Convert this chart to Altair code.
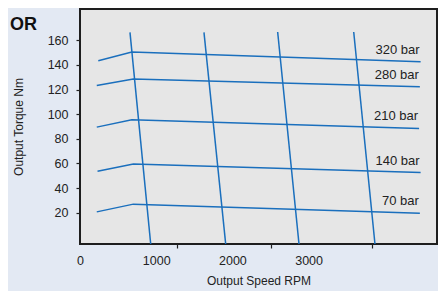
import altair as alt
import pandas as pd

# ---------------- data ----------------
pressure_labels = ["320 bar", "280 bar", "210 bar", "140 bar", "70 bar"]
start_rpm = [240, 220, 220, 230, 220]
start_torque = [143.4, 123.4, 89.5, 53.7, 20.6]
knee_rpm = [680, 700, 680, 700, 700]
knee_torque = [150.5, 128.6, 95.4, 59.6, 26.9]
end_rpm = [4470, 4460, 4450, 4470, 4460]
end_torque = [142.6, 122.3, 88.4, 52.6, 19.5]

flow_ids = ["25", "50", "75", "100"]
flow_top_rpm = [656, 1627, 2594, 3592]
flow_bottom_rpm = [928, 1912, 2874, 3871]
flow_top_torque = [166.5, 166.5, 166.8, 166.8]
flow_bottom_torque = [-5.5, -5.5, -5.5, -5.5]

x_label_values = [0, 1000, 2000, 3000]
x_tick_values = [1270, 2510, 3830]
y_tick_values = [20, 40, 60, 80, 100, 120, 140, 160]
x_domain = [0, 4685]
y_domain = [-5.5, 185.5]

corner_text = ["OR"]

# ---------------- tables ----------------
rows = []
for i, name in enumerate(pressure_labels):
    rows.append({"series": name, "step": 0, "rpm": start_rpm[i], "torque": start_torque[i]})
    rows.append({"series": name, "step": 1, "rpm": knee_rpm[i], "torque": knee_torque[i]})
    rows.append({"series": name, "step": 2, "rpm": end_rpm[i], "torque": end_torque[i]})
pressure_df = pd.DataFrame(rows)

label_df = pd.DataFrame({"series": pressure_labels, "rpm": end_rpm, "torque": end_torque})

frows = []
for i, fid in enumerate(flow_ids):
    frows.append({"flow": fid, "step": 0, "rpm": flow_top_rpm[i], "torque": flow_top_torque[i]})
    frows.append({"flow": fid, "step": 1, "rpm": flow_bottom_rpm[i], "torque": flow_bottom_torque[i]})
flow_df = pd.DataFrame(frows)

BLUE = "#1a6fbd"
DARK = "#222222"
FONT = "Liberation Sans"

x_scale = alt.Scale(domain=x_domain, nice=False, zero=False)
y_scale = alt.Scale(domain=y_domain, nice=False, zero=False)

y_axis = alt.Axis(
    values=y_tick_values, orient="left", grid=False, domain=False, tickSize=4, tickColor=DARK,
    tickWidth=1.2, labelPadding=8, labelFontSize=12.5, labelColor=DARK,
    title="Output Torque Nm", titleFontSize=12, titleFontWeight="normal",
    titleColor=DARK, titlePadding=22,
)

x_label_axis = alt.Axis(
    values=x_label_values, orient="bottom", grid=False, domain=False, ticks=False,
    labelPadding=10, labelFontSize=12.5, labelColor=DARK, format="d", labelFlush=False,
    title="Output Speed RPM", titleFontSize=12, titleFontWeight="normal",
    titleColor=DARK, titlePadding=9,
)

x_tick_axis = alt.Axis(
    values=x_tick_values, orient="bottom", grid=False, domain=False, labels=False,
    tickSize=4, tickColor=DARK, tickWidth=1.2, title=None,
)

pressure_lines = alt.Chart(pressure_df).mark_line(color=BLUE, strokeWidth=1.5).encode(
    x=alt.X("rpm:Q", scale=x_scale, axis=x_label_axis),
    y=alt.Y("torque:Q", scale=y_scale, axis=y_axis),
    detail="series:N",
    order="step:Q",
)

flow_lines = alt.Chart(flow_df).mark_line(color=BLUE, strokeWidth=1.5, clip=True).encode(
    x=alt.X("rpm:Q", scale=x_scale, axis=x_tick_axis),
    y=alt.Y("torque:Q", scale=y_scale, axis=None),
    detail="flow:N",
    order="step:Q",
)

labels = alt.Chart(label_df).mark_text(
    align="right", baseline="middle", dx=-1, dy=-12, fontSize=13, font=FONT, color=DARK
).encode(
    x=alt.X("rpm:Q", scale=x_scale, axis=None),
    y=alt.Y("torque:Q", scale=y_scale, axis=None),
    text="series:N",
)

corner = alt.Chart(pd.DataFrame({"t": corner_text})).mark_text(
    align="right", baseline="alphabetic", fontSize=18, fontWeight="bold", font=FONT, color="#111111"
).encode(
    x=alt.value(-43),
    y=alt.value(21),
    text="t:N",
)

chart = (
    alt.layer(pressure_lines, flow_lines, labels, corner)
    .resolve_axis(x="independent", y="independent")
    .properties(
        width=357,
        height=235,
        autosize=alt.AutoSizeParams(type="none"),
        padding={"left": 72, "top": 1, "right": 1, "bottom": 47},
        background="#e3e9f3",
    )
    .configure_view(fill="#e6e6e6", stroke="#1e1e1e", strokeWidth=2)
    .configure_axis(labelFont=FONT, titleFont=FONT)
)

chart.save("out.html", embed_options={"renderer": "svg", "actions": False})
